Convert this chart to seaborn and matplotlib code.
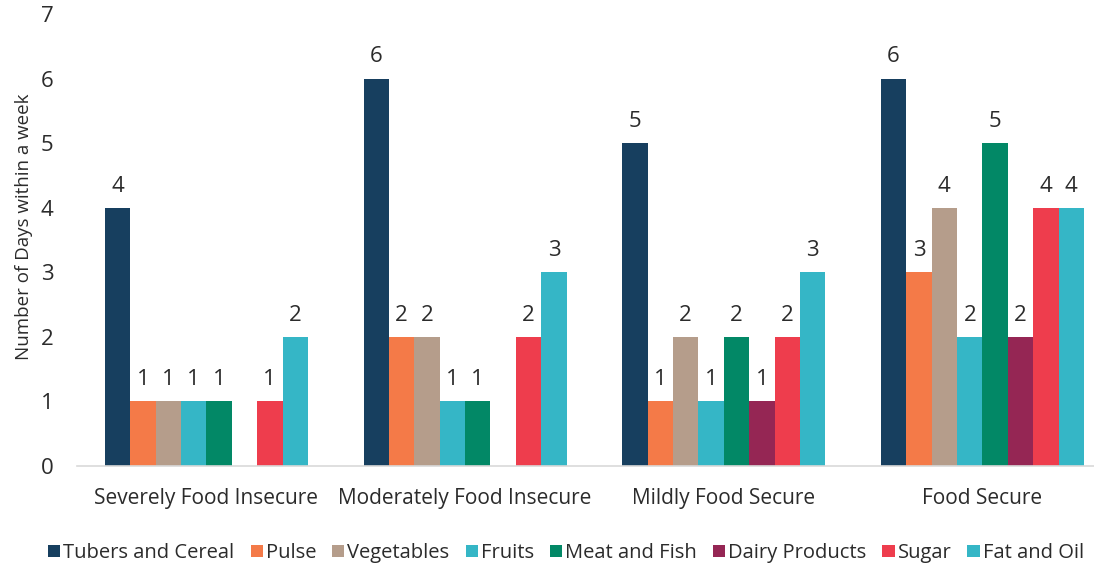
import matplotlib.pyplot as plt
import pandas as pd
import seaborn as sns

groups = ['Severely Food Insecure', 'Moderately Food Insecure', 'Mildly Food Secure', 'Food Secure']
foods = ['Tubers and Cereal', 'Pulse', 'Vegetables', 'Fruits', 'Meat and Fish',
         'Dairy Products', 'Sugar', 'Fat and Oil']
tubers = [4, 6, 5, 6]
pulse = [1, 2, 1, 3]
vegetables = [1, 2, 2, 4]
fruits = [1, 1, 1, 2]
meat = [1, 1, 2, 5]
dairy = [0, 0, 1, 2]
sugar = [1, 2, 2, 4]
fat_oil = [2, 3, 3, 4]
colors = ['#173f5f', '#f47a48', '#b59d8b', '#35b6c6', '#028866', '#952654', '#ee3d4d', '#35b6c6']

series = [tubers, pulse, vegetables, fruits, meat, dairy, sugar, fat_oil]
rows = []
for food, vals in zip(foods, series):
    for g, v in zip(groups, vals):
        rows.append({'group': g, 'food': food, 'days': v})
df = pd.DataFrame(rows)

sns.set_style('white')
plt.rcParams['font.family'] = ['Open Sans', 'DejaVu Sans']
text_color = '#2b2b2b'

W, H = 1094, 571
fig = plt.figure(figsize=(W / 100, H / 100), dpi=100)
# axes: y=0 at 466px, y=7 at 14px, category spacing ~258.7px
ax = fig.add_axes([77 / W, (H - 466) / H, 4 * 258.7 / W, 452 / H])

sns.barplot(data=df, x='group', y='days', hue='food', order=groups, hue_order=foods,
            palette=colors, saturation=1, width=0.785, linewidth=0, ax=ax)

# value labels, skip the empty dairy bars
for cont in ax.containers:
    labels = ['' if b.get_height() == 0 else f'{b.get_height():.0f}' for b in cont]
    ax.bar_label(cont, labels=labels, padding=8, fontsize=16, color=text_color)

ax.set_ylim(0, 7)
ax.set_xlim(-0.5, 3.5)
ax.set_yticks(range(8))
ax.tick_params(axis='y', labelsize=16, colors=text_color, pad=17, length=0)
ax.tick_params(axis='x', labelsize=15, colors=text_color, pad=16, length=0)
ax.set_xlabel('')
ax.set_ylabel('Number of Days within a week', fontsize=13.5, color=text_color)
ax.yaxis.set_label_coords(33 / W, 1 - 227 / H, transform=fig.transFigure)

for side in ['top', 'right', 'left']:
    ax.spines[side].set_visible(False)
ax.spines['bottom'].set_color('#d9d9d9')
ax.spines['bottom'].set_linewidth(1.2)

handles, lbls = ax.get_legend_handles_labels()
ax.legend(handles, lbls, loc='center', bbox_to_anchor=(566 / W, 1 - 553 / H),
          bbox_transform=fig.transFigure, ncol=8, frameon=False, fontsize=14.5,
          handlelength=0.6, handleheight=0.6, handletextpad=0.15, columnspacing=0.8,
          labelcolor=text_color)

fig.savefig('out.png', dpi=100)
